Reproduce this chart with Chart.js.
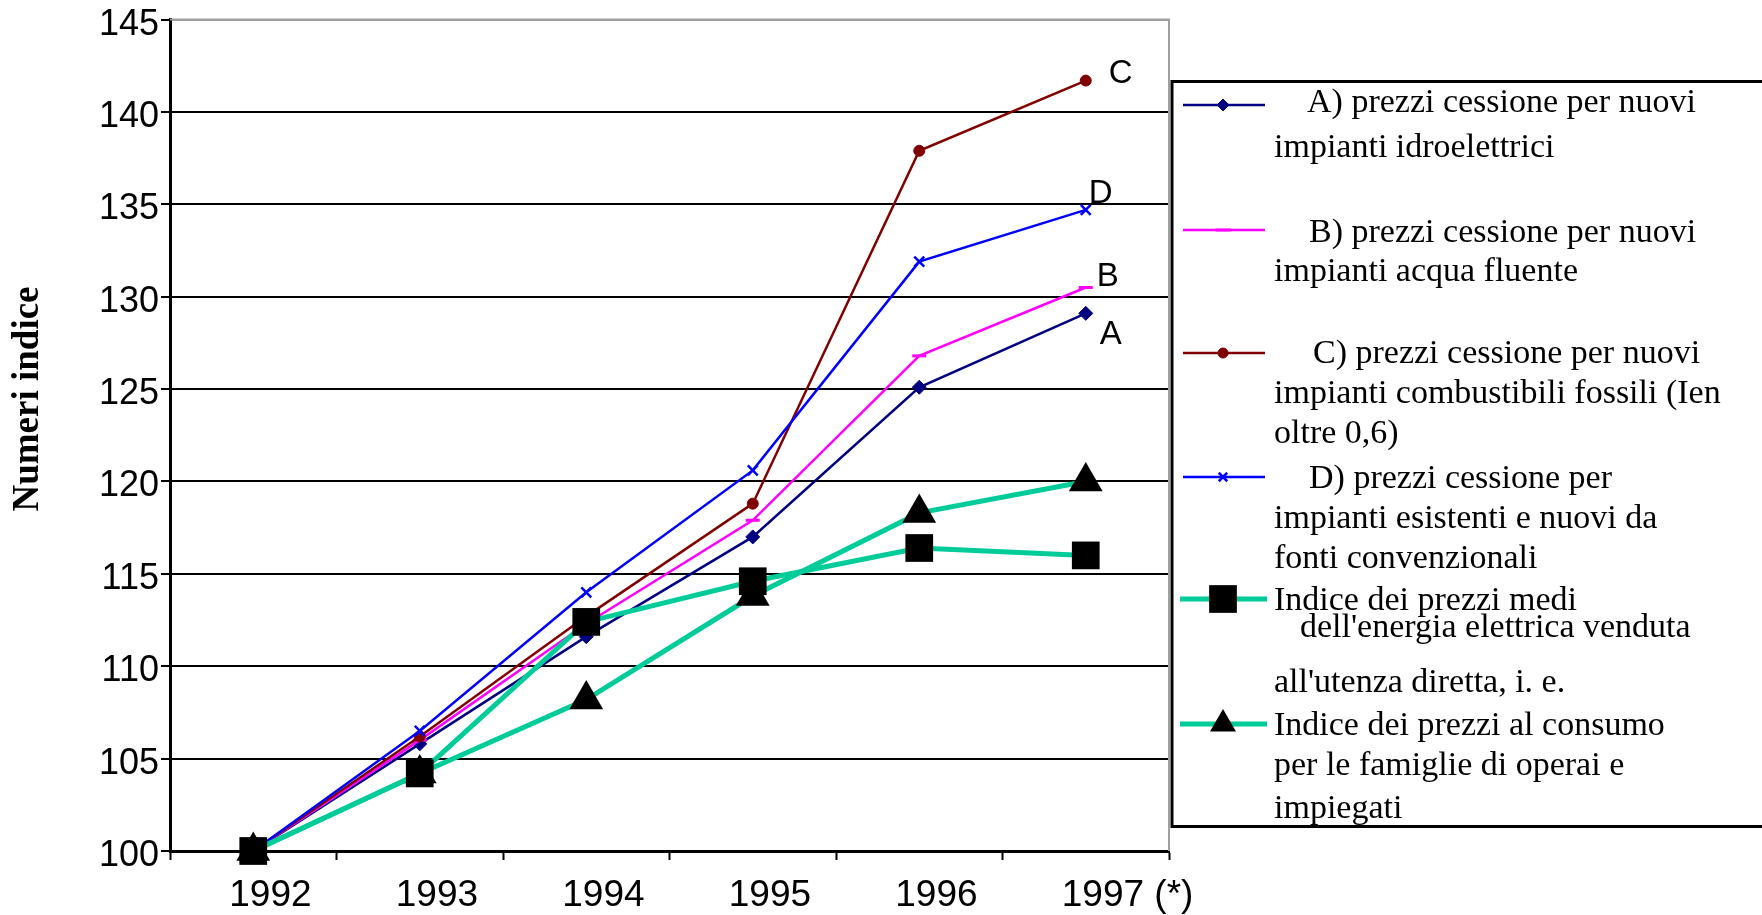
<!DOCTYPE html>
<html lang="it">
<head>
<meta charset="utf-8">
<title>Numeri indice 1992-1997</title>
<script src="https://cdn.jsdelivr.net/npm/chart.js@4.4.1/dist/chart.umd.min.js"></script>
<style>
  html, body { margin: 0; padding: 0; background: #ffffff; }
  #wrap { width: 1762px; height: 915px; }
</style>
</head>
<body>
<div id="wrap"><canvas id="indexChart" width="1762" height="915"></canvas></div>
<script>
(function () {
  "use strict";

  // dati (1992 = 100)
  const years = ["1992", "1993", "1994", "1995", "1996", "1997 (*)"];
  const yTicks = [100, 105, 110, 115, 120, 125, 130, 135, 140, 145];

  const prezziIdro = [100, 105.8, 111.6, 117.0, 125.1, 129.1];
  const prezziAcqua = [100, 106.0, 112.3, 117.9, 126.8, 130.5];
  const prezziFossili = [100, 106.2, 112.7, 118.8, 137.9, 141.7];
  const prezziConvenz = [100, 106.5, 114.0, 120.6, 131.9, 134.7];
  const prezziMedi = [100, 104.2, 112.4, 114.6, 116.4, 116.0];
  const prezziConsumo = [100, 104.2, 108.2, 113.8, 118.3, 120.0];

  const endLabels = ["A", "B", "C", "D"];
  const yTitle = "Numeri indice";

  const legendA = ["A) prezzi cessione per nuovi", "impianti idroelettrici"];
  const legendB = ["B) prezzi cessione per nuovi", "impianti acqua fluente"];
  const legendC = ["C) prezzi cessione per nuovi", "impianti combustibili fossili (Ien", "oltre 0,6)"];
  const legendD = ["D) prezzi cessione per", "impianti esistenti e nuovi da", "fonti convenzionali"];
  const legendMedi = ["Indice dei prezzi medi", "dell'energia elettrica venduta", "all'utenza diretta, i. e."];
  const legendConsumo = ["Indice dei prezzi al consumo", "per le famiglie di operai e", "impiegati"];

  const SANS = "'Liberation Sans', Arial, sans-serif";
  const SERIF = "'Liberation Serif', 'Times New Roman', serif";
  const TEAL = "#00cc99";

  function lineSeries(label, data, style) {
    return Object.assign({
      label: label,
      data: data,
      fill: false,
      tension: 0,
      clip: false,
      pointHoverRadius: 0
    }, style);
  }

  const datasets = [
    lineSeries(legendA.join(" "), prezziIdro, {
      borderColor: "#000080", backgroundColor: "#000080", borderWidth: 2.5,
      pointStyle: "rectRot", pointRadius: 7, pointBorderWidth: 1, order: 5
    }),
    lineSeries(legendB.join(" "), prezziAcqua, {
      borderColor: "#ff00ff", backgroundColor: "#ff00ff", borderWidth: 2.5,
      pointStyle: "line", pointRadius: 7, pointBorderWidth: 3, order: 4
    }),
    lineSeries(legendC.join(" "), prezziFossili, {
      borderColor: "#800000", backgroundColor: "#800000", borderWidth: 2.5,
      pointStyle: "circle", pointRadius: 5.5, pointBorderWidth: 1, order: 3
    }),
    lineSeries(legendD.join(" "), prezziConvenz, {
      borderColor: "#0000ff", backgroundColor: "#0000ff", borderWidth: 2.5,
      pointStyle: "crossRot", pointRadius: 7, pointBorderWidth: 2.5, order: 2
    }),
    lineSeries(legendMedi.join(" "), prezziMedi, {
      borderColor: TEAL, borderWidth: 5,
      pointStyle: "rect", pointRadius: 19.6,
      pointBackgroundColor: "#000", pointBorderColor: "#000", pointBorderWidth: 0, order: 0
    }),
    lineSeries(legendConsumo.join(" "), prezziConsumo, {
      borderColor: TEAL, borderWidth: 5,
      pointStyle: "triangle", pointRadius: 19.5,
      pointBackgroundColor: "#000", pointBorderColor: "#000", pointBorderWidth: 0, order: 1
    })
  ];

  // posizione delle etichette A-D rispetto all'ultimo punto
  const endLabelOffsets = [[25, 22], [22, -11], [35, -7], [15, -16]];

  // legenda: y del campione e righe [x, baseline]
  const legendLayout = [
    { lines: legendA, sampleY: 105, rows: [[1307, 112], [1274, 157]] },
    { lines: legendB, sampleY: 230, rows: [[1309, 242], [1274, 281]] },
    { lines: legendC, sampleY: 353, rows: [[1313, 363], [1274, 403], [1274, 443]] },
    { lines: legendD, sampleY: 477, rows: [[1309, 488], [1274, 528], [1274, 568]] },
    { lines: legendMedi, sampleY: 599, rows: [[1274, 610], [1300, 637], [1274, 692]] },
    { lines: legendConsumo, sampleY: 724, rows: [[1274, 735], [1274, 775], [1274, 818]] }
  ];
  const legendMarkerRadius = [6, 7.5, 5, 6, 19.6, 15];

  function drawMarker(ctx, ds, radius, x, y) {
    ctx.save();
    ctx.fillStyle = ds.pointBackgroundColor || ds.backgroundColor;
    ctx.strokeStyle = ds.pointBorderColor || ds.borderColor;
    ctx.lineWidth = ds.pointBorderWidth || 0;
    if (window.Chart && Chart.helpers && Chart.helpers.drawPoint) {
      Chart.helpers.drawPoint(ctx, {
        pointStyle: ds.pointStyle,
        radius: radius,
        rotation: 0,
        borderWidth: ds.pointBorderWidth || 0
      }, x, y);
    }
    ctx.restore();
  }

  function drawLegend(chart) {
    const ctx = chart.ctx;
    ctx.save();
    ctx.strokeStyle = "#000";
    ctx.lineWidth = 3;
    ctx.strokeRect(1172, 81.5, 700, 745);

    ctx.font = "34px " + SERIF;
    ctx.fillStyle = "#000";
    ctx.textAlign = "left";
    ctx.textBaseline = "alphabetic";

    legendLayout.forEach(function (entry, i) {
      const ds = chart.data.datasets[i];
      const thick = ds.borderWidth > 3;
      ctx.strokeStyle = ds.borderColor;
      ctx.lineWidth = thick ? 5 : 2.5;
      ctx.beginPath();
      ctx.moveTo(thick ? 1180 : 1183, entry.sampleY);
      ctx.lineTo(thick ? 1267 : 1265, entry.sampleY);
      ctx.stroke();
      drawMarker(ctx, ds, legendMarkerRadius[i], 1223, entry.sampleY);

      entry.lines.forEach(function (text, k) {
        const row = entry.rows[k];
        ctx.fillText(text, row[0], row[1]);
      });
    });
    ctx.restore();
  }

  const decorPlugin = {
    id: "decor",
    beforeDatasetsDraw(chart) {
      const ctx = chart.ctx;
      const area = chart.chartArea;
      ctx.save();
      ctx.strokeStyle = "#a0a0a0";
      ctx.lineWidth = 2;
      ctx.beginPath();
      ctx.moveTo(area.left, area.top);
      ctx.lineTo(area.right, area.top);
      ctx.lineTo(area.right, area.bottom);
      ctx.stroke();
      ctx.restore();
    },
    afterDraw(chart) {
      const ctx = chart.ctx;
      ctx.save();

      // titolo asse y
      ctx.translate(28, 399);
      ctx.rotate(-Math.PI / 2);
      ctx.font = "bold 37px " + SERIF;
      ctx.fillStyle = "#000";
      ctx.textAlign = "center";
      ctx.textBaseline = "middle";
      ctx.fillText(yTitle, 0, 0);
      ctx.restore();

      // etichette A, B, C, D a fine serie
      ctx.save();
      ctx.font = "33px " + SANS;
      ctx.fillStyle = "#000";
      ctx.textAlign = "center";
      ctx.textBaseline = "middle";
      endLabels.forEach(function (name, i) {
        const pts = chart.getDatasetMeta(i).data;
        const last = pts[pts.length - 1];
        ctx.fillText(name, last.x + endLabelOffsets[i][0], last.y + endLabelOffsets[i][1]);
      });
      ctx.restore();

      drawLegend(chart);
    }
  };

  new Chart(document.getElementById("indexChart"), {
    type: "line",
    data: { labels: years, datasets: datasets },
    plugins: [decorPlugin],
    options: {
      responsive: false,
      devicePixelRatio: 1,
      animation: false,
      events: [],
      layout: { padding: { top: 17, right: 593, bottom: 0, left: 0 } },
      plugins: {
        legend: { display: false },
        tooltip: { enabled: false },
        title: { display: false }
      },
      scales: {
        x: {
          type: "category",
          offset: true,
          grid: {
            display: true,
            offset: true,
            drawOnChartArea: false,
            drawTicks: true,
            tickLength: 9,
            tickColor: "#000",
            tickWidth: 2
          },
          border: { color: "#000", width: 3 },
          ticks: {
            color: "#000",
            font: { family: SANS, size: 37 },
            padding: 14,
            align: "start",
            labelOffset: -24,
            maxRotation: 0,
            autoSkip: false
          },
          afterFit: function (scale) { scale.height = 64; }
        },
        y: {
          min: 100,
          max: 145,
          grid: {
            color: function (ctx) {
              return ctx.tick && ctx.tick.value === 145 ? "#a0a0a0" : "#000";
            },
            lineWidth: 2,
            drawTicks: true,
            tickLength: 9,
            tickColor: "#000",
            tickWidth: 2
          },
          border: { color: "#000", width: 3 },
          ticks: {
            color: "#000",
            font: { family: SANS, size: 36, lineHeight: 0.9 },
            padding: 2,
            labelOffset: 5
          },
          afterBuildTicks: function (scale) {
            scale.ticks = yTicks.map(function (v) { return { value: v }; });
          },
          afterFit: function (scale) { scale.width = 170; }
        }
      }
    }
  });
})();
</script>
</body>
</html>
